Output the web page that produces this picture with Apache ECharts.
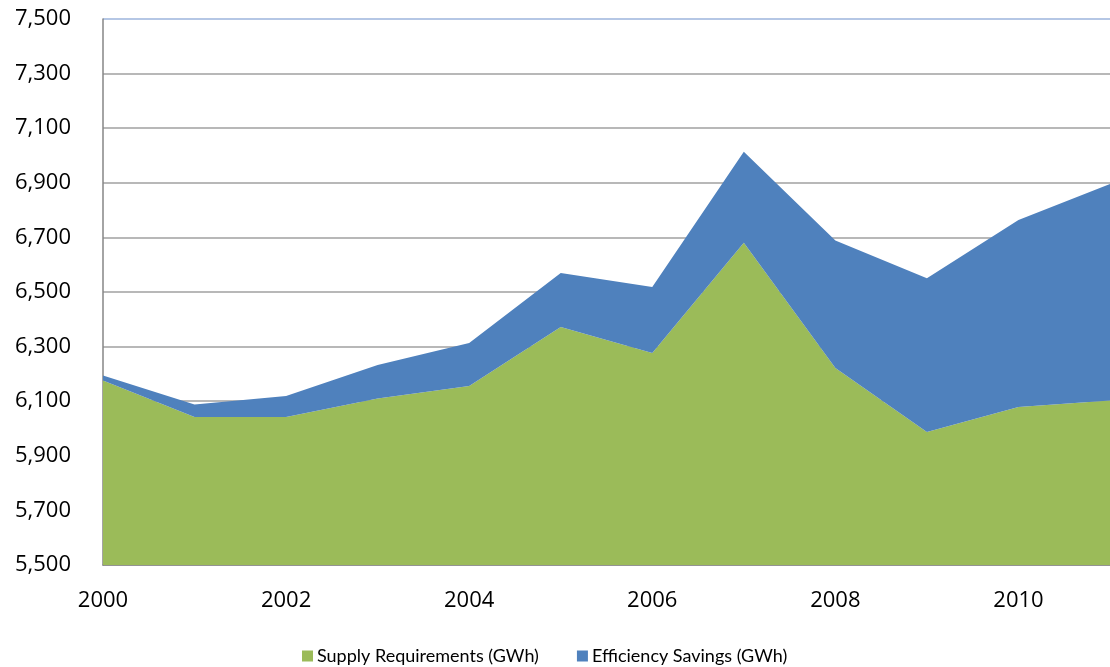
<!DOCTYPE html>
<html>
<head>
<meta charset="utf-8">
<script src="https://cdn.jsdelivr.net/npm/echarts@6/dist/echarts.min.js"></script>
<style>html,body{margin:0;padding:0;background:#fff;}#c{width:1110px;height:667px;}</style>
</head>
<body>
<div id="c"></div>
<script>
var years = ['2000','2001','2002','2003','2004','2005','2006','2007','2008','2009','2010','2011'];
var supply = [6176, 6042, 6042, 6110, 6156, 6372, 6277, 6680, 6222, 5987, 6079, 6103];
var savings = [18, 46, 77, 123, 157, 198, 241, 334, 467, 563, 685, 793];
var seriesNames = ['Supply Requirements (GWh)', 'Efficiency Savings (GWh)'];
var yMin = 5500, yMax = 7500, yStep = 200;

function commas(v){ return String(v).replace(/\B(?=(\d{3})+(?!\d))/g, ','); }

var gridColors = [];
for (var v = yMin; v <= yMax; v += yStep) gridColors.push(v === yMax ? '#9db4dc' : '#a0a0a0');

var chart = echarts.init(document.getElementById('c'), null, {renderer:'canvas'});
chart.setOption({
  animation: false,
  textStyle: {fontFamily: 'Open Sans', color: '#000'},
  grid: {left: 103, top: 19, right: -8, bottom: 102, containLabel: false},
  legend: {
    left: 297, top: 642,
    icon: 'rect', itemWidth: 11, itemHeight: 11, itemGap: 38,
    textStyle: {fontFamily: 'Lato', fontSize: 18, color: '#000', padding: [0,0,0,-1]},
    data: seriesNames
  },
  xAxis: {
    type: 'category', data: years, boundaryGap: false,
    axisLine: {lineStyle: {color: '#868686', width: 1.5}},
    axisTick: {show: false},
    axisLabel: {interval: 1, fontSize: 22, color: '#000', margin: 25, fontFamily: 'Open Sans'},
    splitLine: {show: false}
  },
  yAxis: {
    type: 'value', min: yMin, max: yMax, interval: yStep,
    axisLine: {show: true, lineStyle: {color: '#868686', width: 1.5}},
    axisTick: {show: false},
    axisLabel: {fontSize: 22, color: '#000', margin: 32, fontFamily: 'Open Sans', formatter: function(v){ return commas(v); }},
    splitLine: {show: true, lineStyle: {color: gridColors, width: 1.5}}
  },
  series: [
    {name: seriesNames[0], type: 'line', stack: 'total', data: supply, symbol: 'none',
     lineStyle: {width: 0}, areaStyle: {color: '#9bbb59', opacity: 1}, itemStyle: {color: '#9bbb59'}},
    {name: seriesNames[1], type: 'line', stack: 'total', data: savings, symbol: 'none',
     lineStyle: {width: 0}, areaStyle: {color: '#4f81bd', opacity: 1}, itemStyle: {color: '#4f81bd'}}
  ]
});
</script>
</body>
</html>
